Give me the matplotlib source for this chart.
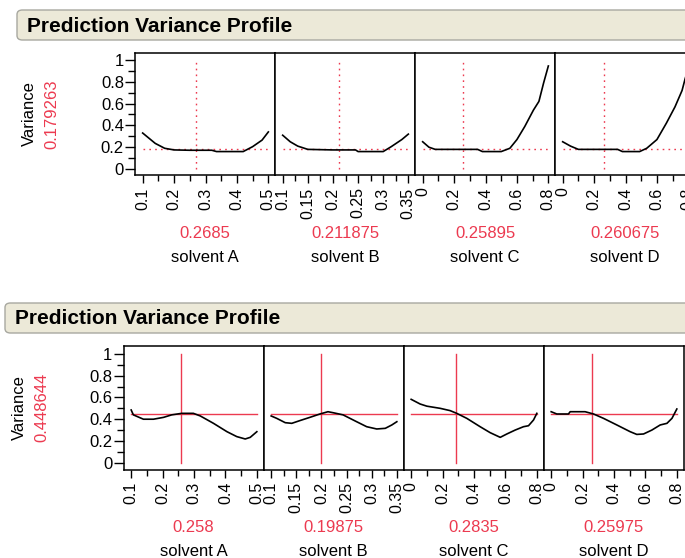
"""Prediction variance profile, two stacked profilers."""

import matplotlib.pyplot as plt
from matplotlib.patches import FancyBboxPatch
from matplotlib.ticker import MultipleLocator

plt.rcParams["font.family"] = ["Liberation Sans", "DejaVu Sans"]

RED = "#ec3a50"
W, H = 685, 558

factors = ["solvent A", "solvent B", "solvent C", "solvent D"]
x_ranges = [(0.1, 0.5), (0.1, 0.35), (0.0, 0.8), (0.0, 0.8)]
x_major = [0.1, 0.05, 0.2, 0.2]
x_minor = [0.05, 0.025, 0.1, 0.1]

# top profiler
top_variance = 0.179263
top_settings = [0.2685, 0.211875, 0.25895, 0.260675]
top_labels = ["0.2685", "0.211875", "0.25895", "0.260675"]
top_x = [
    [0.10, 0.14, 0.17, 0.20, 0.25, 0.32, 0.335, 0.42, 0.45, 0.48, 0.50],
    [0.10, 0.115, 0.13, 0.15, 0.20, 0.245, 0.25, 0.30, 0.316, 0.337, 0.35],
    [0.0, 0.04, 0.08, 0.20, 0.35, 0.38, 0.50, 0.555, 0.60, 0.65, 0.705, 0.74, 0.77, 0.80],
    [0.0, 0.05, 0.10, 0.20, 0.35, 0.38, 0.49, 0.535, 0.60, 0.66, 0.715, 0.76, 0.78, 0.80],
]
top_y = [
    [0.33, 0.235, 0.19, 0.175, 0.172, 0.172, 0.16, 0.16, 0.205, 0.265, 0.34],
    [0.31, 0.25, 0.21, 0.18, 0.175, 0.175, 0.16, 0.16, 0.205, 0.27, 0.32],
    [0.25, 0.20, 0.18, 0.18, 0.18, 0.16, 0.16, 0.19, 0.27, 0.39, 0.54, 0.62, 0.79, 0.945],
    [0.25, 0.21, 0.18, 0.18, 0.18, 0.16, 0.16, 0.19, 0.27, 0.42, 0.57, 0.72, 0.83, 0.92],
]

# bottom profiler
bot_variance = 0.448644
bot_settings = [0.258, 0.19875, 0.2835, 0.25975]
bot_labels = ["0.258", "0.19875", "0.2835", "0.25975"]
bot_x = [
    [0.10, 0.107, 0.139, 0.171, 0.203, 0.229, 0.261, 0.298, 0.32, 0.362, 0.405, 0.436, 0.463, 0.479, 0.50],
    [0.10, 0.111, 0.128, 0.141, 0.157, 0.177, 0.197, 0.213, 0.223, 0.243, 0.27, 0.29, 0.31, 0.327, 0.34, 0.35],
    [0.0, 0.057, 0.10, 0.185, 0.248, 0.29, 0.354, 0.439, 0.503, 0.567, 0.609, 0.662, 0.715, 0.747, 0.779, 0.80],
    [0.0, 0.036, 0.11, 0.121, 0.216, 0.27, 0.333, 0.418, 0.503, 0.545, 0.588, 0.641, 0.694, 0.737, 0.769, 0.80],
]
bot_y = [
    [0.485, 0.44, 0.40, 0.40, 0.417, 0.44, 0.454, 0.454, 0.43, 0.362, 0.285, 0.24, 0.218, 0.233, 0.285],
    [0.43, 0.408, 0.368, 0.362, 0.387, 0.417, 0.448, 0.469, 0.46, 0.44, 0.377, 0.331, 0.31, 0.316, 0.347, 0.377],
    [0.583, 0.54, 0.52, 0.50, 0.479, 0.454, 0.408, 0.331, 0.276, 0.233, 0.264, 0.30, 0.331, 0.34, 0.393, 0.454],
    [0.469, 0.448, 0.448, 0.469, 0.469, 0.448, 0.408, 0.347, 0.285, 0.26, 0.264, 0.30, 0.347, 0.362, 0.408, 0.494],
]


def header(fig, left, top, height):
    box = FancyBboxPatch(
        (left / W, 1 - (top + height) / H), (W + 20 - left) / W, height / H,
        boxstyle="round,pad=0,rounding_size=0.008",
        transform=fig.transFigure, facecolor="#ece9d8", edgecolor="#a8a8a0",
        linewidth=1.0,
    )
    fig.patches.append(box)
    fig.text((left + 10) / W, 1 - (top + height / 2 + 1) / H,
             "Prediction Variance Profile", fontsize=15, fontweight="bold",
             va="center", ha="left")


def profiler(fig, left, top, bottom, xs, ys, settings, labels, variance,
             dotted, ylim, var_x, lab_y):
    ls = (0, (1.2, 3)) if dotted else "-"
    for i in range(4):
        lo, hi = x_ranges[i]
        span = hi - lo
        ax = fig.add_axes([(left + 140 * i) / W, 1 - bottom / H,
                           140 / W, (bottom - top) / H])
        ax.plot(xs[i], ys[i], color="black", lw=1.2, zorder=3)
        ax.plot([lo, hi], [variance, variance], color=RED, lw=1.0, ls=ls)
        ax.plot([settings[i], settings[i]], [0, 1], color=RED, lw=1.0, ls=ls)
        ax.set_xlim(lo - 0.061 * span, hi + 0.053 * span)
        ax.set_ylim(*ylim)
        ax.xaxis.set_major_locator(MultipleLocator(x_major[i]))
        ax.xaxis.set_minor_locator(MultipleLocator(x_minor[i]))
        ticks = [t for t in ax.get_xticks() if lo - 1e-9 <= t <= hi + 1e-9]
        ax.set_xticks(ticks)
        ax.set_xticklabels(["{:g}".format(round(t, 3)) for t in ticks],
                           rotation=90, fontsize=11.5)
        ax.tick_params(axis="x", which="major", length=6, width=1, pad=3)
        ax.tick_params(axis="x", which="minor", length=4, width=1)
        if i == 0:
            ax.yaxis.set_minor_locator(MultipleLocator(0.1))
            ax.set_yticks([0, 0.2, 0.4, 0.6, 0.8, 1.0])
            ax.set_yticklabels(["0", "0.2", "0.4", "0.6", "0.8", "1"], fontsize=12)
            ax.tick_params(axis="y", which="major", length=7, width=1, pad=1)
            ax.tick_params(axis="y", which="minor", length=5, width=1)
        else:
            ax.set_yticks([])
            ax.yaxis.set_minor_locator(plt.NullLocator())
        for sp in ax.spines.values():
            sp.set_linewidth(1.1)
        cx = (left + 140 * i + 70) / W
        fig.text(cx, 1 - lab_y / H, labels[i], color=RED, fontsize=12,
                 ha="center", va="center")
        fig.text(cx, 1 - (lab_y + 24) / H, factors[i], color="black",
                 fontsize=12, ha="center", va="center")
    mid = 1 - (top + bottom) / 2 / H
    fig.text(var_x / W, mid, "Variance", rotation=90, fontsize=12,
             ha="center", va="center")
    fig.text((var_x + 23) / W, mid, f"{variance:g}", rotation=90, fontsize=12,
             color=RED, ha="center", va="center")


fig = plt.figure(figsize=(W / 100, H / 100), dpi=100)
header(fig, 17, 10, 30)
profiler(fig, 135, 53, 175, top_x, top_y, top_settings, top_labels,
         top_variance, True, (-0.055, 1.064), 29, 233)
header(fig, 5, 303, 30)
profiler(fig, 123.5, 346, 469.5, bot_x, bot_y, bot_settings, bot_labels,
         bot_variance, False, (-0.063, 1.074), 19, 528)

fig.savefig("out.png", dpi=100)
plt.close(fig)
